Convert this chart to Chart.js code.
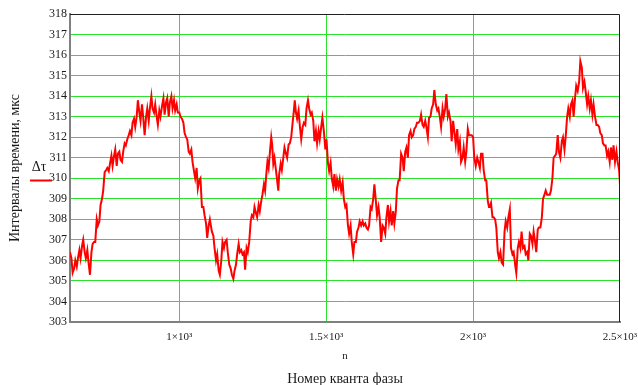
<!DOCTYPE html>
<html>
<head>
<meta charset="utf-8">
<script src="https://cdn.jsdelivr.net/npm/chart.js@4.4.1/dist/chart.umd.min.js"></script>
<style>
   html, body { margin: 0; padding: 0; background: #fff; }
   canvas { display: block; }
</style>
</head>
<body>
<canvas id="chart" width="638" height="385"></canvas>
<script>
// номер кванта фазы
const n = [
   628, 633, 637, 642, 646, 651, 655, 660, 664, 669,
   673, 678, 682, 687, 691, 696, 701, 705, 710, 714,
   719, 723, 728, 732, 737, 741, 746, 751, 755, 760,
   764, 769, 773, 778, 782, 787, 791, 796, 800, 805,
   809, 814, 818, 823, 828, 832, 837, 841, 846, 850,
   855, 859, 864, 868, 873, 877, 882, 887, 891, 896,
   900, 905, 909, 914, 918, 923, 927, 932, 936, 941,
   946, 950, 955, 959, 964, 968, 973, 977, 982, 986,
   991, 995, 1000, 1004, 1009, 1014, 1018, 1023, 1027, 1032,
   1036, 1041, 1045, 1050, 1054, 1059, 1063, 1068, 1072, 1077,
   1082, 1086, 1091, 1095, 1100, 1104,
   1111, 1116, 1120, 1125, 1129, 1134, 1138, 1143, 1147, 1152,
   1156, 1161, 1165, 1170, 1175, 1179, 1184, 1188, 1193, 1197,
   1202, 1206, 1211, 1215, 1220, 1224, 1229, 1233, 1238, 1243,
   1247, 1252, 1256, 1261, 1265, 1270, 1274, 1279, 1283, 1288,
   1292, 1297, 1300, 1304, 1308, 1313, 1316, 1320, 1324, 1329,
   1333, 1337, 1340, 1345, 1349, 1354, 1358, 1363, 1367, 1372,
   1376, 1381, 1385, 1390, 1393, 1397, 1401, 1406, 1410, 1415,
   1420, 1424, 1429, 1433, 1438, 1442, 1447, 1451, 1456, 1460,
   1465, 1469, 1474, 1478, 1483, 1487, 1492, 1497, 1501, 1506,
   1510, 1515, 1519, 1524, 1528, 1533, 1537, 1542, 1546, 1551,
   1556, 1560, 1565, 1569, 1574, 1578,
   1583, 1587, 1592, 1596, 1601, 1605, 1610, 1614, 1619, 1624,
   1628, 1633, 1637, 1642, 1646, 1651, 1655, 1660, 1664, 1669,
   1673, 1678, 1682, 1687, 1692, 1696, 1701, 1705, 1710, 1714,
   1719, 1723, 1728, 1732, 1737, 1741, 1746, 1750, 1755, 1760,
   1764, 1769, 1773, 1778, 1782, 1787, 1791, 1796, 1800, 1805,
   1809, 1814, 1819, 1823, 1828, 1832, 1837, 1841, 1846, 1850,
   1855, 1859, 1864, 1868, 1873, 1878, 1882, 1887, 1891, 1896,
   1900, 1905, 1909, 1914, 1918, 1923, 1927, 1932, 1936, 1941,
   1946, 1950, 1955, 1959, 1964, 1968, 1973, 1977, 1982, 1986,
   1991, 1995, 2000, 2004, 2009, 2014, 2018, 2023, 2027, 2032,
   2036, 2041, 2045, 2050, 2054,
   2057, 2061, 2066, 2070, 2075, 2079, 2084, 2088, 2093, 2097,
   2102, 2107, 2111, 2116, 2120, 2125, 2129, 2134, 2138, 2143,
   2147, 2152, 2156, 2161, 2165, 2170, 2175, 2179, 2184, 2188,
   2193, 2197, 2202, 2206, 2211, 2215, 2220, 2224, 2229, 2234,
   2238, 2243, 2247, 2252, 2256, 2261, 2265, 2270, 2274, 2279,
   2283, 2288, 2292, 2297, 2302, 2306, 2311, 2315, 2320, 2324,
   2329, 2333, 2338, 2342, 2347, 2351, 2356, 2361, 2365, 2370,
   2374, 2379, 2383, 2388, 2392, 2397, 2401, 2406, 2410, 2415,
   2420, 2424, 2429, 2433, 2438, 2442, 2447, 2451, 2456, 2460,
   2465, 2469, 2474, 2478, 2483, 2488, 2492, 2497, 2500
]

// Δτ, мкс
const dtau = [
   306.4, 306.1, 305.4, 305.6, 306.0, 305.7, 306.1, 306.5, 306.1, 306.7,
   307.0, 306.4, 306.1, 306.5, 305.9, 305.3, 306.4, 306.8, 306.9, 306.9,
   308.0, 307.7, 307.9, 308.7, 309.0, 309.4, 310.3, 310.4, 310.5, 310.35,
   310.7, 311.1, 310.6, 311.1, 311.4, 310.6, 311.2, 311.3, 310.9, 310.8,
   311.3, 311.7, 311.6, 311.9, 312.1, 312.3, 312.1, 312.7, 312.9, 312.5,
   313.0, 313.8, 313.2, 312.8, 313.6, 313.0, 312.1, 313.0, 313.4, 312.8,
   313.4, 314.0, 313.4, 313.2, 313.6, 313.0, 312.6, 313.3, 313.0, 313.5,
   313.9, 313.1, 313.7, 313.9, 313.0, 313.7, 314.0, 313.4, 313.8, 313.3,
   313.6, 313.2, 313.2, 313.0, 312.9, 312.7, 312.2, 312.0, 311.9, 311.3,
   311.2, 311.4, 310.8, 310.35, 310.0, 310.5, 309.5, 309.9, 310.0, 308.6,
   308.6, 308.2, 307.8, 307.1, 307.7, 308.0,
   307.4, 307.2, 306.6, 306.0, 306.3, 305.5, 305.3, 306.0, 306.9, 306.6,
   306.9, 307.0, 306.4, 305.8, 305.6, 305.3, 305.1, 305.5, 305.8, 306.3,
   306.8, 306.4, 306.5, 306.3, 306.4, 305.55, 306.6, 306.4, 306.9, 307.9,
   308.2, 308.1, 308.6, 308.3, 308.1, 308.7, 308.4, 308.9, 309.2, 309.7,
   309.4, 310.35, 310.8, 310.5, 311.2, 312.0, 311.65, 310.7, 311.0, 310.4,
   309.9, 309.4, 310.2, 310.7, 310.4, 311.0, 311.5, 311.2, 311.0, 311.65,
   311.7, 312.0, 312.6, 313.3, 313.8, 313.2, 312.9, 313.3, 312.6, 311.9,
   312.5, 312.7, 312.6, 313.4, 313.8, 313.4, 313.1, 313.2, 312.8, 311.8,
   312.3, 311.7, 312.3, 311.9, 312.5, 312.95, 312.3, 311.4, 311.9, 310.75,
   310.35, 310.75, 310.0, 309.6, 310.2, 309.4, 309.95, 309.6, 309.95, 309.4,
   309.8, 309.0, 308.6, 308.7, 307.7, 307.3,
   307.7, 306.9, 306.3, 306.9, 306.9, 307.4, 307.6, 307.9, 307.7, 307.9,
   307.7, 307.8, 307.6, 307.5, 307.7, 308.6, 308.5, 309.0, 309.7, 308.9,
   308.2, 308.6, 308.1, 306.9, 307.7, 307.6, 307.3, 308.1, 308.7, 307.9,
   308.4, 307.7, 308.4, 307.8, 308.4, 309.5, 309.9, 309.9, 311.2, 311.0,
   310.35, 311.3, 311.5, 311.0, 312.1, 312.3, 312.0, 312.1, 312.4, 312.5,
   312.7, 312.7, 312.8, 313.1, 312.6, 312.5, 312.8, 312.5, 312.0, 312.95,
   313.0, 313.4, 313.6, 314.3, 313.6, 313.3, 313.4, 312.95, 312.5, 313.4,
   313.0, 313.4, 314.1, 313.0, 313.2, 312.8, 311.8, 312.8, 312.3, 311.65,
   312.4, 311.4, 311.8, 310.8, 311.0, 311.5, 310.8, 311.3, 312.4, 312.1,
   312.1, 312.1, 312.0, 311.0, 310.6, 311.0, 310.8, 310.5, 311.2, 311.2,
   310.4, 309.9, 309.9, 308.9, 308.6,
   308.6, 308.8, 308.1, 308.1, 308.0, 307.6, 306.4, 306.1, 306.4, 305.9,
   305.8, 307.4, 307.9, 307.6, 308.1, 308.5, 306.6, 306.3, 306.4, 305.8,
   305.4, 306.6, 306.9, 306.6, 307.4, 306.6, 306.7, 306.3, 306.4, 306.0,
   307.3, 307.2, 306.8, 307.4, 306.9, 306.4, 307.5, 307.6, 307.6, 308.1,
   309.0, 309.2, 309.4, 309.2, 309.2, 309.2, 309.4, 310.0, 311.0, 311.1,
   311.2, 312.1, 311.3, 311.0, 311.8, 312.0, 311.4, 312.0, 313.0, 313.4,
   313.0, 313.6, 313.8, 313.0, 313.9, 314.5, 314.25, 314.7, 315.7, 315.4,
   314.4, 314.7, 314.25, 313.6, 314.0, 313.4, 313.8, 313.1, 313.6, 313.0,
   312.6, 312.6, 312.5, 312.2, 312.1, 311.7, 311.6, 311.6, 311.1, 311.3,
   310.8, 311.5, 310.9, 311.6, 310.8, 311.3, 310.8, 310.4, 309.7
]

const yTicks = [303, 304, 305, 306, 307, 308, 309, 310, 311, 312, 313, 314, 315, 316, 317, 318]
const xTicks = [1000, 1500, 2000, 2500]
const xTickLabels = ['1×10³', '1.5×10³', '2×10³', '2.5×10³']

const serif = "'Liberation Serif', 'Times New Roman', serif"
const green = '#2de22d'
const textColor = '#1a1a1a'

// верхняя и правая рамка, легенда и подписи осей
const decorations = {
   id: 'decorations',
   afterDraw(chart) {
      const { ctx, chartArea: a } = chart
      ctx.save()
      ctx.strokeStyle = '#202020'
      ctx.lineWidth = 1
      ctx.beginPath()
      ctx.moveTo(a.left, a.top + 0.5)
      ctx.lineTo(a.right - 0.5, a.top + 0.5)
      ctx.lineTo(a.right - 0.5, a.bottom)
      ctx.stroke()

      ctx.strokeStyle = '#ff0000'
      ctx.lineWidth = 2
      ctx.beginPath()
      ctx.moveTo(30, 180.5)
      ctx.lineTo(52, 180.5)
      ctx.stroke()

      ctx.fillStyle = textColor
      ctx.textAlign = 'center'
      ctx.textBaseline = 'middle'
      ctx.font = '14px ' + serif
      ctx.fillText('Δτ', 39, 167)

      ctx.font = '11px ' + serif
      ctx.fillText('n', 345, 356)

      ctx.font = '14px ' + serif
      ctx.fillText('Номер кванта фазы', 345, 379)

      ctx.translate(15, 168)
      ctx.rotate(-Math.PI / 2)
      ctx.fillText('Интервалы времени, мкс', 0, 0)
      ctx.restore()
   }
}

new Chart(document.getElementById('chart'), {
   type: 'line',
   data: {
      datasets: [{
         label: 'Δτ',
         data: n.map((x, i) => ({ x, y: dtau[i] })),
         borderColor: '#ff0000',
         borderWidth: 2,
         pointRadius: 0,
         tension: 0,
         fill: false
      }]
   },
   options: {
      responsive: false,
      animation: false,
      devicePixelRatio: 1,
      layout: { padding: { top: 14, right: 18, bottom: 0, left: 0 } },
      plugins: {
         legend: { display: false },
         tooltip: { enabled: false },
         title: { display: false }
      },
      scales: {
         x: {
            type: 'linear',
            min: 628,
            max: 2500,
            afterBuildTicks: s => { s.ticks = xTicks.map(value => ({ value })) },
            afterFit: s => {
               s.height = 63
               // last label hangs over the right edge, as in the original
               s.paddingLeft = 0
               s.paddingRight = 0
            },
            ticks: {
               autoSkip: false,
               maxRotation: 0,
               padding: 9,
               color: textColor,
               font: { family: serif, size: 11 },
               callback: v => xTickLabels[xTicks.indexOf(v)]
            },
            grid: {
               drawTicks: false,
               lineWidth: 1,
               color: c => (c.tick && c.tick.value === 2500) ? 'rgba(0,0,0,0)' : green
            },
            border: { color: '#808080', width: 2 }
         },
         y: {
            min: 303,
            max: 318,
            afterBuildTicks: s => { s.ticks = yTicks.map(value => ({ value })) },
            afterFit: s => {
               s.width = 70
               s.paddingTop = 0
               s.paddingBottom = 0
            },
            ticks: {
               padding: 3,
               color: textColor,
               font: { family: serif, size: 12 }
            },
            grid: {
               drawTicks: false,
               lineWidth: 1,
               color: c => (c.tick && (c.tick.value === 303 || c.tick.value === 318)) ? 'rgba(0,0,0,0)' : green
            },
            border: { color: '#808080', width: 2 }
         }
      }
   },
   plugins: [decorations]
})
</script>
</body>
</html>
